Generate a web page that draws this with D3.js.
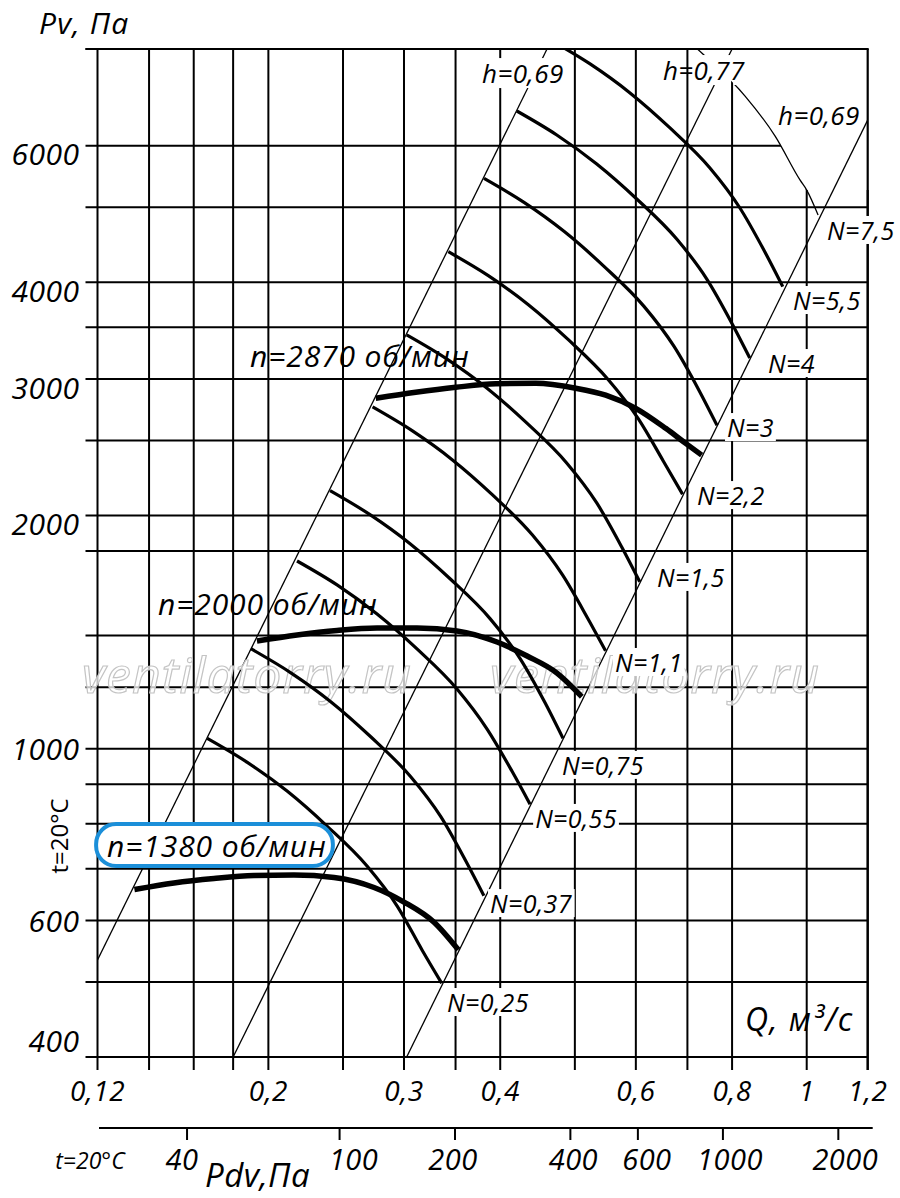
<!DOCTYPE html>
<html><head><meta charset="utf-8">
<script src="https://cdn.jsdelivr.net/npm/d3@7"></script>
<style>
html,body{margin:0;padding:0;background:#fff;}
svg{display:block;}
text{font-family:"Open Sans","Noto Sans",sans-serif;fill:#000;}
</style></head><body>
<svg id="chart" width="900" height="1198"></svg>
<script>
// ---------- axis / grid data ----------
const qGrid  = [0.12,0.14,0.16,0.18,0.2,0.25,0.3,0.35,0.4,0.5,0.6,0.7,0.8,1.0,1.2];
const pvGrid = [400,500,600,700,800,900,1000,1200,1400,1800,2000,2500,3000,3500,4000,5000,6000,8000];
const qTickLabels  = [0.12,0.2,0.3,0.4,0.6,0.8,1,1.2];
const pvTickLabels = [400,600,1000,2000,3000,4000,6000];
const pdvTickLabels = [40,100,200,400,600,1000,2000];

// ---------- fan curves at fixed speed (thick) ----------
const speedLabels = ["n=1380 об/мин","n=2000 об/мин","n=2870 об/мин"];
const q_n1380  = [0.1340,0.1508,0.1700,0.1916,0.2159,0.2434,0.2743,0.3000,0.3282,0.3529];
const pv_n1380 = [658,671,680,686,687,682,662,634,597,550];
const q_n2000  = [0.1933,0.2179,0.2456,0.2768,0.3119,0.3515,0.3962,0.4335,0.4740,0.5104];
const pv_n2000 = [1377,1402,1421,1431,1431,1419,1373,1317,1252,1167];
const q_n2870  = [0.2757,0.3107,0.3502,0.3947,0.4449,0.5014,0.5483,0.5998,0.6560,0.6964,0.7305];
const pv_n2870 = [2833,2884,2927,2958,2962,2919,2859,2750,2591,2478,2393];
const speedLabelQ  = [0.1235,0.1438,0.1893];
const speedLabelPv = [751,1541,3222];

// ---------- power curves N (kW) ----------
const powerLabels = ["N=0,25","N=0,37","N=0,55","N=0,75","N=1,1","N=1,5","N=2,2","N=3","N=4","N=5,5","N=7,5"];
const q_N025 = [0.1666,0.1878,0.2117,0.2385,0.2688,0.2941,0.3169,0.3358];
const pv_N025 = [1031,960,881,794,705,626,549,498];
const q_N037 = [0.1898,0.2139,0.2410,0.2716,0.3061,0.3349,0.3609,0.3809];
const pv_N037 = [1346,1253,1150,1036,920,817,716,646];
const q_N055 = [0.2179,0.2456,0.2768,0.3119,0.3515,0.3846,0.4144,0.4373];
const pv_N055 = [1747,1627,1492,1345,1194,1060,935,848];
const q_N075 = [0.2405,0.2710,0.3055,0.3443,0.3880,0.4245,0.4574,0.4826];
const pv_N075 = [2153,2005,1839,1657,1472,1307,1146,1031];
const q_N11 = [0.2731,0.3077,0.3468,0.3909,0.4405,0.4819,0.5193,0.5480];
const pv_N11 = [2761,2571,2359,2126,1887,1676,1475,1338];
const q_N15 = [0.3024,0.3408,0.3842,0.4329,0.4879,0.5338,0.5752,0.6070];
const pv_N15 = [3420,3185,2922,2633,2338,2076,1821,1642];
const q_N22 = [0.3425,0.3860,0.4351,0.4903,0.5526,0.6046,0.6515,0.6900];
const pv_N22 = [4380,4079,3742,3372,2994,2665,2350,2130];
const q_N3 = [0.3811,0.4295,0.4840,0.5455,0.6148,0.6726,0.7248,0.7648];
const pv_N3 = [5446,5071,4653,4193,3723,3305,2900,2614];
const q_N4 = [0.4203,0.4737,0.5338,0.6016,0.6780,0.7418,0.7994,0.8435];
const pv_N4 = [6654,6196,5684,5123,4548,4038,3542,3194];
const q_N55 = [0.4638,0.5227,0.5891,0.6639,0.7483,0.8186,0.8822,0.9309];
const pv_N55 = [8224,7658,7026,6332,5622,4991,4379,3948];
const q_N75 = [0.5155,0.5810,0.6548,0.7379,0.8317,0.9099,0.9805,1.0,1.0346];
const pv_N75 = [10175,9475,8693,7834,6956,6175,5417,5260,4884];
const powerLabelQ  = [0.3412,0.3880,0.4440,0.4812,0.5637,0.6391,0.7203,0.7880,0.8907,0.9599,1.0625];
const powerLabelPv = [471,632,814,953,1294,1666,2125,2601,3146,3794,4672];

// ---------- efficiency boundary lines ----------
const effLabels = ["h=0,69","h=0,77","h=0,69"];
const effQ  = [[0.12,0.4601],[0.18,0.80],[0.3024,1.2]];
const effPv = [[533.8,8000],[400,8000],[400,6477]];
const effLabelQ  = [0.3788,0.6507,0.9178];
const effLabelPv = [7448,7515,6575];

// ---------- layout (not data) ----------
const pdvLabelNudge = {40:-5, 100:14, 200:-2, 400:3, 600:9, 1000:7, 2000:7};

// ---------- scales ----------
const x = d3.scaleLog().domain([0.12,1.2]).range([97.5,867.7]);
const y = d3.scaleLog().domain([400,8000]).range([1057,49]);
const xPdv = d3.scaleLog().domain([23.36,2386]).range([97.5,867.7]);
const fmt = v => String(v).replace(".", ",");
const zip = (a,b) => a.map((v,i)=>[v,b[i]]);
const line = d3.line().x(d=>x(d[0])).y(d=>y(d[1])).curve(d3.curveMonotoneX);

const svg = d3.select("#chart");
svg.append("rect").attr("width",900).attr("height",1198).attr("fill","#fff");
const defs = svg.append("defs");
const X0 = x(0.12), X1 = x(1.2), Y0 = y(400), Y1 = y(8000);
defs.append("clipPath").attr("id","plotClip").append("rect")
  .attr("x",X0).attr("y",Y1).attr("width",X1-X0).attr("height",Y0-Y1);

// grid clip: everything below / left of the N=7,5 limit curve
const arcPts = zip(q_N75,pv_N75).filter(d=>d[0]<=1.0);
const arcD = line(arcPts);
const gl = X0-20, gb = Y0+20, gr = X1+5, ycut = y(arcPts[arcPts.length-1][1]);
defs.append("clipPath").attr("id","gridClip").append("path")
  .attr("d", `M${gl},-80L${arcD.slice(1)}L${gr},${ycut}L${gr},${gb}L${gl},${gb}Z`);

// 1. thin efficiency lines + N=7,5 limit curve
const gThin = svg.append("g").attr("clip-path","url(#plotClip)")
  .attr("fill","none").attr("stroke","#000").attr("stroke-width",1.3);
effQ.forEach((qs,i)=>{
  gThin.append("path").attr("d", d3.line().x(d=>x(d[0])).y(d=>y(d[1]))(zip(qs,effPv[i])));
});
gThin.append("path").attr("d", line(zip(q_N75,pv_N75)));

// 2. background for the middle h label (grid line stays visible through it)
const gH77bg = svg.append("g");

// 3. grid
const gGrid = svg.append("g").attr("clip-path","url(#gridClip)")
  .attr("stroke","#000").attr("stroke-width",2);
qGrid.forEach(q=>{
  gGrid.append("line").attr("x1",x(q)).attr("x2",x(q)).attr("y1",Y1).attr("y2",Y0+13);
});
pvGrid.forEach(p=>{
  gGrid.append("line").attr("x1",X0-12).attr("x2",X1).attr("y1",y(p)).attr("y2",y(p));
});
svg.append("line").attr("x1",X0-12).attr("x2",X1+1).attr("y1",Y1).attr("y2",Y1)
  .attr("stroke","#000").attr("stroke-width",2.2);
svg.append("line").attr("x1",X1).attr("x2",X1).attr("y1",Y1).attr("y2",Y0+13)
  .attr("stroke","#000").attr("stroke-width",2.2);

// 4. watermark
["ventilatorry.ru","ventilatorry.ru"].forEach((t,i)=>{
  svg.append("text").text(t).attr("x",i?490:82).attr("y",693)
    .attr("font-size",50).attr("font-style","italic").attr("letter-spacing",1)
    .style("fill","rgba(255,255,255,0.75)").attr("stroke","#c4c4c4").attr("stroke-width",1.2);
});

// 5. curves
const gCurves = svg.append("g").attr("clip-path","url(#plotClip)").attr("fill","none").attr("stroke","#000");
const powerSeries = [[q_N025,pv_N025],[q_N037,pv_N037],[q_N055,pv_N055],[q_N075,pv_N075],[q_N11,pv_N11],
  [q_N15,pv_N15],[q_N22,pv_N22],[q_N3,pv_N3],[q_N4,pv_N4],[q_N55,pv_N55]];
powerSeries.forEach(s=>{
  gCurves.append("path").attr("d", line(zip(s[0],s[1]))).attr("stroke-width",3.2);
});
[[q_n1380,pv_n1380],[q_n2000,pv_n2000],[q_n2870,pv_n2870]].forEach(s=>{
  gCurves.append("path").attr("d", line(zip(s[0],s[1]))).attr("stroke-width",5.5);
});

// 6. labels with white backgrounds
function bgLabel(parent, bgParent, txt, q, p, size, pad){
  const t = parent.append("text").text(txt).attr("x",x(q)).attr("y",y(p))
    .attr("dominant-baseline","central").attr("font-size",size).attr("font-style","italic")
    .attr("letter-spacing",0.4);
  const b = t.node().getBBox();
  bgParent.insert("rect", bgParent===parent ? "text" : null)
    .attr("x",b.x-pad).attr("y",b.y+3).attr("width",b.width+2*pad).attr("height",b.height-6)
    .attr("fill","#fff");
  return t;
}
const gLab = svg.append("g");
powerLabels.forEach((l,i)=> bgLabel(gLab, gLab, l, powerLabelQ[i], powerLabelPv[i], 25, 2));
effLabels.forEach((l,i)=> bgLabel(gLab, i===1 ? gH77bg : gLab, l, effLabelQ[i], effLabelPv[i], 26, 2));

speedLabels.forEach((l,i)=>{
  const t = gLab.append("text").text(l).attr("x",x(speedLabelQ[i])).attr("y",y(speedLabelPv[i]))
    .attr("dominant-baseline","central").attr("font-size",30).attr("font-style","italic")
    .attr("letter-spacing",0.9);
  if(i===0){
    const b = t.node().getBBox();
    const cy = y(speedLabelPv[i]);
    gLab.insert("rect","text")
      .attr("x",b.x-11).attr("y",cy-21).attr("width",b.width+17).attr("height",42)
      .attr("rx",20).attr("fill","#fff").attr("stroke","#1b8fd9").attr("stroke-width",4);
  }
});

// 7. axes text
const gAx = svg.append("g");
pvTickLabels.forEach(v=>{
  gAx.append("text").text(v).attr("x",X0-18)
    .attr("y", y(v) + (v===400 ? -17 : v>=2000 ? 8 : 0))
    .attr("text-anchor","end").attr("dominant-baseline","central")
    .attr("font-size",30).attr("font-style","italic").attr("letter-spacing",0.5);
});
qTickLabels.forEach(v=>{
  gAx.append("text").text(fmt(v)).attr("x",x(v)).attr("y",Y0+33)
    .attr("text-anchor","middle").attr("dominant-baseline","central")
    .attr("font-size",28).attr("font-style","italic").attr("letter-spacing",0.5);
});
const yP = Y0+71;
gAx.append("line").attr("x1",X0+1.5).attr("x2",X1+5).attr("y1",yP).attr("y2",yP)
  .attr("stroke","#000").attr("stroke-width",2);
pdvTickLabels.forEach(v=>{
  gAx.append("line").attr("x1",xPdv(v)).attr("x2",xPdv(v)).attr("y1",yP).attr("y2",yP+12)
    .attr("stroke","#000").attr("stroke-width",2);
  gAx.append("text").text(v).attr("x",xPdv(v)+(pdvLabelNudge[v]||0)).attr("y",yP+30)
    .attr("text-anchor","middle").attr("dominant-baseline","central")
    .attr("font-size",29).attr("font-style","italic").attr("letter-spacing",0.5);
});
gAx.append("text").text("Pdv,Па").attr("x",205).attr("y",1187)
  .attr("font-size",33).attr("font-style","italic").attr("letter-spacing",0.5);
gAx.append("text").text("t=20°C").attr("x",90).attr("y",1160).attr("text-anchor","middle")
  .attr("dominant-baseline","central").attr("font-size",23).attr("font-style","italic");
gAx.append("text").text("Pv, Па").attr("x",39).attr("y",34)
  .attr("font-size",30).attr("font-style","italic").attr("letter-spacing",1.2);
gAx.append("text").text("Q, м³/с").attr("x",745).attr("y",1031)
  .attr("font-size",32).attr("font-style","italic").attr("letter-spacing",1.5);
gAx.append("text").text("t=20°C").attr("transform","translate(58,836) rotate(-90)")
  .attr("text-anchor","middle").attr("dominant-baseline","central").attr("font-size",24);
</script>
</body></html>
